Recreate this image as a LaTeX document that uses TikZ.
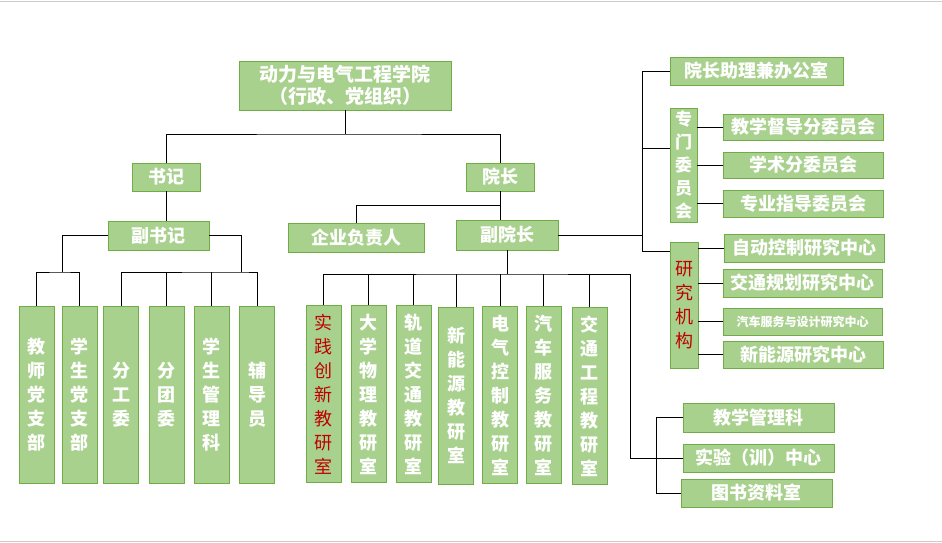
\documentclass[tikz,border=0pt]{standalone}
\usepackage{fontspec}
\setmainfont{Noto Sans CJK SC}
\usepackage{xcolor}
\usetikzlibrary{positioning}
\definecolor{boxfill}{HTML}{A9D18E}
\definecolor{boxline}{HTML}{70AD47}
\definecolor{deepred}{HTML}{C00000}

\begin{document}
\begin{tikzpicture}[x=1pt,y=-1pt,
box/.style={draw=boxline,fill=boxfill,line width=0.9pt,inner sep=0pt,align=center,text=white,font=\bfseries\fontsize{18}{22}\selectfont},
vbox/.style={box,minimum width=35pt,minimum height=177pt,font=\bfseries\fontsize{18}{24}\selectfont},
redbox/.style={vbox,text=deepred,font=\fontsize{18}{24}\selectfont},
sidebox/.style={box,minimum width=160pt,minimum height=27pt},
link/.style={line width=0.8pt}]
\useasboundingbox (0,0) rectangle (942,543);
\draw[gray!40,line width=1.5pt] (0,1.5) -- (942,1.5) (0,541.5) -- (942,541.5);
% top levels
\node[box,minimum width=212pt,minimum height=49pt,font=\bfseries\fontsize{19}{22}\selectfont] (college) at (345,85.5) {动力与电气工程学院\\（行政、党组织）};
\node[box,minimum width=68pt,minimum height=28pt] (secretary) at (166,177) {书记};
\node[box,minimum width=68pt,minimum height=28pt] (dean) at (500,177) {院长};
\node[box,minimum width=101pt,minimum height=29pt] (depsec) at (158.5,235.5) {副书记};
\node[box,minimum width=136pt,minimum height=29pt] (enterprise) at (356,237.5) {企业负责人};
\node[box,minimum width=102pt,minimum height=30pt] (vicedean) at (507,235) {副院长};
% party side
\node[vbox] (teachparty) at (36.5,394.5) {教\\师\\党\\支\\部};
\node[vbox] (studparty) at (79.5,394.5) {学\\生\\党\\支\\部};
\node[vbox] (union) at (121,394.5) {分\\工\\委};
\node[vbox] (league) at (166.5,394.5) {分\\团\\委};
\node[vbox] (studmgmt) at (211.5,394.5) {学\\生\\管\\理\\科};
\node[vbox] (counsel) at (257,395) {辅\\导\\员};
% teaching offices
\node[redbox] (practice) at (323.5,394) {实\\践\\创\\新\\教\\研\\室};
\node[vbox] (physics) at (368.5,394) {大\\学\\物\\理\\教\\研\\室};
\node[vbox] (railway) at (413.5,394) {轨\\道\\交\\通\\教\\研\\室};
\node[vbox] (newenergy) at (456,395.5) {新\\能\\源\\教\\研\\室};
\node[vbox] (elecctrl) at (500,395) {电\\气\\控\\制\\教\\研\\室};
\node[vbox] (autoserv) at (543.5,395) {汽\\车\\服\\务\\教\\研\\室};
\node[vbox] (traffic) at (589.5,396) {交\\通\\工\\程\\教\\研\\室};
% right side
\node[box,minimum width=173pt,minimum height=28pt] (office) at (756.5,71) {院长助理兼办公室};
\node[box,minimum width=27pt,minimum height=114pt,font=\bfseries\fontsize{17}{23}\selectfont] (committee) at (683.5,165) {专\\门\\委\\员\\会};
\node[sidebox,minimum height=26pt] (supervise) at (803,127) {教学督导分委员会};
\node[sidebox,minimum height=26pt] (academic) at (803,165) {学术分委员会};
\node[sidebox] (major) at (803,203.5) {专业指导委员会};
\node[box,minimum width=28pt,minimum height=126pt,text=deepred,font=\fontsize{18}{24}\selectfont] (research) at (684,305) {研\\究\\机\\构};
\node[sidebox,minimum height=28pt] (autoctrl) at (804,248) {自动控制研究中心};
\node[sidebox,minimum height=28pt,minimum width=159pt] (planning) at (802.5,283) {交通规划研究中心};
\node[sidebox,minimum width=159pt,font=\bfseries\fontsize{12}{14}\selectfont] (design) at (802.5,321.5) {汽车服务与设计研究中心};
\node[sidebox] (energyctr) at (803.5,354.5) {新能源研究中心};
\node[box,minimum width=151pt,minimum height=29pt] (teachmgmt) at (758.5,417.5) {教学管理科};
\node[box,minimum width=151pt,minimum height=28pt] (lab) at (758.5,458) {实验（训）中心};
\node[box,minimum width=151pt,minimum height=28pt] (library) at (756.5,493) {图书资料室};
% connectors
\coordinate (topbus) at (345,134);
\coordinate (deanbus) at (500,205);
\coordinate (lbus) at (62,272);
\coordinate (rbus) at (241,272);
\coordinate (mbus) at (507,274);
\coordinate (mcorner) at (630,458);
\draw[link] (college.south) -- (topbus);
\draw[link] (secretary.north) |- (topbus) -| (dean.north);
\draw[link] (secretary.south) -- (secretary.south |- depsec.north);
\draw[link] (dean.south) -- (dean.south |- vicedean.north);
\draw[link] (deanbus) -| (enterprise.north);
\draw[link] (depsec.west) -| (lbus);
\draw[link] (teachparty.north) |- (lbus) -| (studparty.north);
\draw[link] (depsec.east) -| (rbus);
\draw[link] (union.north) |- (rbus) -| (counsel.north);
\draw[link] (league.north) -- (league.north |- rbus); \draw[link] (studmgmt.north) -- (studmgmt.north |- rbus);
\draw[link] (vicedean.south) -- (mbus);
\draw[link] (practice.north) |- (mbus) -| (mcorner) -- (lab.west);
\draw[link] (physics.north) -- (physics.north |- mbus); \draw[link] (railway.north) -- (railway.north |- mbus);
\draw[link] (newenergy.north) -- (newenergy.north |- mbus); \draw[link] (elecctrl.north) -- (elecctrl.north |- mbus);
\draw[link] (autoserv.north) -- (autoserv.north |- mbus); \draw[link] (traffic.north) -- (traffic.north |- mbus);
\draw[link] (teachmgmt.west) -- ++(-26,0) |- (library.west);
\draw[link] (vicedean.east) -- ++(85,0);
\draw[link] (office.west) -| ([xshift=-27pt,yshift=-10pt]research.north west) -- ([yshift=-10pt]research.north west);
\draw[link] ([yshift=17pt]committee.west) -- ++(-27,0);
\draw[link] (committee.east |- supervise.west) -- (supervise.west); \draw[link] (committee.east |- academic.west) -- (academic.west);
\draw[link] (committee.east |- major.west) -- (major.west);
\draw[link] (research.east |- autoctrl.west) -- (autoctrl.west); \draw[link] (research.east |- planning.west) -- (planning.west);
\draw[link] (research.east |- design.west) -- (design.west); \draw[link] (research.east |- energyctr.west) -- (energyctr.west);
\end{tikzpicture}
\end{document}
